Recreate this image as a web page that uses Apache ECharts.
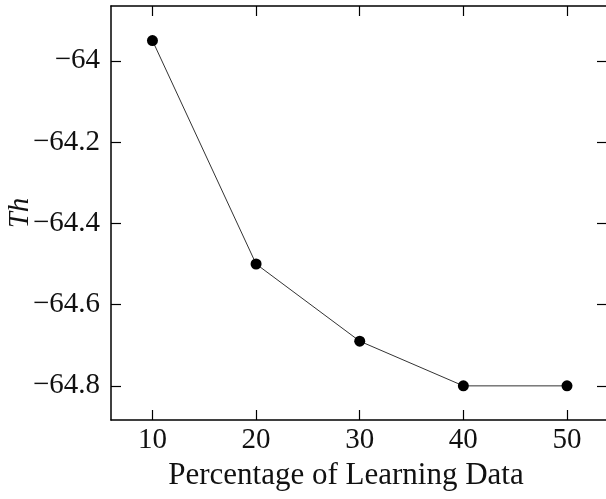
<!DOCTYPE html>
<html>
<head>
<meta charset="utf-8">
<script src="https://cdn.jsdelivr.net/npm/echarts@6/dist/echarts.min.js"></script>
<style>html,body{margin:0;padding:0;background:#fff;}#c{width:606px;height:499px;}</style>
</head>
<body>
<div id="c"></div>
<script>
const categories = [10, 20, 30, 40, 50];
const thValues = [-63.95, -64.50, -64.69, -64.80, -64.80];
const xTicks = [10, 20, 30, 40, 50];
const yTicks = [-64.8, -64.6, -64.4, -64.2, -64.0];

const FONT = '"Liberation Serif", "DejaVu Serif", serif';
const fmtY = v => String(Math.round(v * 10) / 10).replace('-', '\u2212');
const axisBase = {
  axisLine: { show: true, onZero: false, lineStyle: { color: '#000', width: 1.5 } },
  axisTick: { show: true, inside: true, length: 10, lineStyle: { color: '#000', width: 1.2 } },
  splitLine: { show: false }
};
const chart = echarts.init(document.getElementById('c'));
chart.setOption({
  animation: false,
  backgroundColor: '#fff',
  grid: { left: 111, top: 6, right: -1, bottom: 79, containLabel: false, outerBoundsMode: 'none' },
  xAxis: [
    Object.assign({}, axisBase, {
      type: 'value', min: 6, max: 53.86, position: 'bottom',
      axisTick: Object.assign({}, axisBase.axisTick, { customValues: xTicks }),
      axisLabel: { customValues: xTicks, margin: 6, fontFamily: FONT, fontSize: 29, color: '#111' },
      name: 'Percentage of Learning Data', nameLocation: 'middle', nameGap: 40, nameMoveOverlap: false,
      nameTextStyle: { fontFamily: FONT, fontSize: 31, color: '#111', padding: [0, 26, 0, 0] }
    }),
    Object.assign({}, axisBase, {
      type: 'value', min: 6, max: 53.86, position: 'top',
      axisTick: Object.assign({}, axisBase.axisTick, { customValues: xTicks }),
      axisLabel: { show: false }
    })
  ],
  yAxis: [
    Object.assign({}, axisBase, {
      type: 'value', min: -64.884, max: -63.865, position: 'left',
      axisTick: Object.assign({}, axisBase.axisTick, { customValues: yTicks }),
      axisLabel: { customValues: yTicks, margin: 11, formatter: fmtY, fontFamily: FONT, fontSize: 29, color: '#111' },
      name: 'Th', nameLocation: 'middle', nameGap: 76, nameRotate: 90, nameMoveOverlap: false,
      nameTextStyle: { fontFamily: FONT, fontSize: 29, fontStyle: 'italic', color: '#111' }
    }),
    Object.assign({}, axisBase, {
      type: 'value', min: -64.884, max: -63.865, position: 'right',
      axisTick: Object.assign({}, axisBase.axisTick, { customValues: yTicks }),
      axisLabel: { show: false }
    })
  ],
  series: [{
    type: 'line',
    data: categories.map((c, i) => [c, thValues[i]]),
    symbol: 'circle', symbolSize: 11,
    itemStyle: { color: '#000' },
    lineStyle: { color: '#333', width: 1 }
  }]
});
</script>
</body>
</html>
